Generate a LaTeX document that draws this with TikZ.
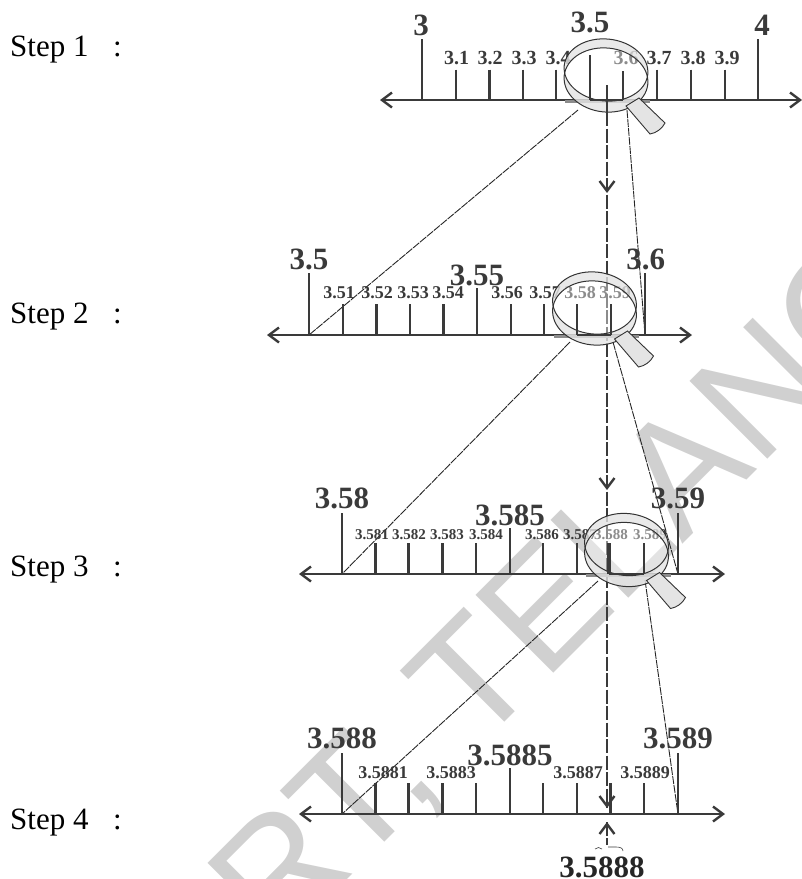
\documentclass[tikz,border=0pt]{standalone}
\usepackage{fontspec}
\setmainfont{Liberation Serif}
\newfontfamily\wmfont{Liberation Sans}
\usetikzlibrary{arrows.meta}
\definecolor{ink}{HTML}{3A3A3A}
\definecolor{wmgray}{HTML}{D0D0D0}
\definecolor{rimgray}{HTML}{E4E4E4}
\tikzset{
  x=1pt,y=-1pt,
  barb/.tip={Straight Barb[length=10pt,width=15pt,line width=2.4pt]},
  axisline/.style={ink,line width=2.5pt,barb-barb},
  ticklen/.style={ink,line width=2.1pt},
  biglab/.style={text=ink,font=\bfseries\fontsize{31}{31}\selectfont,inner sep=0pt,anchor=center},
  smlab/.style={text=ink,font=\bfseries\fontsize{#1}{#1}\selectfont,inner sep=0pt,anchor=center},
  steplab/.style={font=\fontsize{31}{31}\selectfont,inner sep=0pt,anchor=base west},
  centreline/.style={ink,line width=2.4pt,dash pattern=on 14pt off 2.5pt},
  guide/.style={black!85,line width=0.9pt,dash pattern=on 8pt off 1pt},
  headline/.style={ink,line width=2.3pt,-barb},
  lensline/.style={draw=black!80,line width=1pt},
  lenshandle/.style={draw=black!80,line width=0.9pt,fill=rimgray},
}
\newcommand{\tickmark}[3]{\draw[ticklen] (#1,#2) -- (#1,#3);}
% #1,#2 = lens centre, #3 = axis height
\newcommand{\lensat}[3]{%
  \draw[black!45,line width=3pt] (#1-41,#3+1) -- (#1+44,#3+1);
  \fill[rimgray,even odd rule,fill opacity=0.8]
     (#1,#2-5) circle [x radius=42,y radius=31,rotate=-6]
     (#1,#2+5) circle [x radius=42,y radius=32,rotate=-6];
  \begin{scope}
    \clip (#1,#2-5) circle [x radius=42,y radius=31,rotate=-6];
    \fill[white,fill opacity=0.42] (#1,#2+5) circle [x radius=42,y radius=32,rotate=-6];
  \end{scope}
  \path[lensline] (#1,#2-5) circle [x radius=42,y radius=31,rotate=-6];
  \path[lensline] (#1,#2+5) circle [x radius=42,y radius=32,rotate=-6];
  \path[lenshandle] (#1+20,#2+31) -- (#1+33,#2+23) -- (#1+59,#2+48)
     .. controls (#1+56,#2+54) and (#1+50,#2+58) .. (#1+44,#2+59) -- cycle;
}
\begin{document}
\begin{tikzpicture}
\useasboundingbox (0,0) rectangle (802,879);
\clip (0,0) rectangle (802,879);
% watermark
\node[rotate=45,anchor=base west,inner sep=0pt,text=wmgray,font=\wmfont\fontsize{160}{160}\selectfont] (wm) at (276,951) {RT, TELANGANA};
% step labels
\node[steplab] (s1) at (10,56) {Step 1};
\node[steplab] (c1) at (113,56) {:};
\node[steplab] (s2) at (10,323) {Step 2};
\node[steplab] (c2) at (113,323) {:};
\node[steplab] (s3) at (10,576) {Step 3};
\node[steplab] (c3) at (113,576) {:};
\node[steplab] (s4) at (10,829) {Step 4};
\node[steplab] (c4) at (113,829) {:};
% named anchors
\coordinate (c1top) at (607,112);
\coordinate (hA) at (607,193);
\coordinate (hB) at (607,490);
\coordinate (hC) at (607,808);
\coordinate (hCfrom) at (607,794);
\coordinate (hBfrom) at (607,476);
\coordinate (hAfrom) at (607,179);
\coordinate (a1L) at (309,335);
\coordinate (a1R) at (645,335);
\coordinate (a2L) at (342,574);
\coordinate (a2R) at (678,574);
\coordinate (a3L) at (342,814);
\coordinate (a3R) at (678,814);
\coordinate (l1L) at (578,110);
\coordinate (l1R) at (627,110);
\coordinate (l2L) at (570,342);
\coordinate (l2R) at (613,342);
\coordinate (l3L) at (598,581);
\coordinate (l3R) at (645,580);
% guides and centre line
\draw[guide] (l1L) -- (a1L);
\draw[guide] (l1R) -- (a1R);
\draw[guide] (l2L) -- (a2L);
\draw[guide] (l2R) -- (a2R);
\draw[guide] (l3L) -- (a3L);
\draw[guide] (l3R) -- (a3R);
\draw[centreline] (c1top) -- (hC);
\draw[headline] (hAfrom) -- (hA);
\draw[headline] (hBfrom) -- (hB);
\draw[headline] (hCfrom) -- (hC);
% STEP 1
\coordinate (ax1a) at (380,100); \coordinate (ax1b) at (802,100);
\draw[axisline] (ax1a) -- (ax1b);
\foreach \x in {421.7,758}{\tickmark{\x}{39}{100}}
\foreach \x in {456,489.5,523,556,657,691,725}{\tickmark{\x}{69.5}{100}}
\node[biglab] (t3) at (421,25) {3};
\node[biglab] (t35) at (590,22) {3.5};
\node[biglab] (t4) at (762,25) {4};
\foreach \x/\t/\n in {456.5/3.1/a,490/3.2/b,524/3.3/c,558/3.4/d,626/3.6/e,659/3.7/f,693/3.8/g,727/3.9/h}
  {\node[smlab=20] (u\n) at (\x,58) {\t};}
\lensat{606}{75}{100}
\draw[ticklen] (590,55) -- (590,100);
\draw[ticklen] (623,71) -- (623,100);
\draw[ticklen] (606.7,85) -- (606.7,112);
\draw[ink,line width=2.5pt] (590,100) -- (623,100);
% STEP 2
\coordinate (ax2a) at (267,335); \coordinate (ax2b) at (692,335);
\draw[axisline] (ax2a) -- (ax2b);
\foreach \x in {309,645}{\tickmark{\x}{273}{335}}
\tickmark{477}{288}{335}
\foreach \x in {343,376.5,410,443.5,511,544}{\tickmark{\x}{304}{335}}
\node[biglab] (v1) at (309,259) {3.5};
\node[biglab] (v2) at (645.7,259) {3.6};
\node[biglab] (v3) at (477,275) {3.55};
\foreach \x/\t/\n in {339/3.51/a,377/3.52/b,413/3.53/c,448/3.54/d,507/3.56/e,545/3.57/f,580/3.58/g,615/3.59/h}
  {\node[smlab=18] (w\n) at (\x,293) {\t};}
\lensat{594.5}{308}{335}
\draw[ticklen] (577,304) -- (577,335);
\draw[ticklen] (611,304) -- (611,335);
\draw[ink,line width=2.5pt] (577,335) -- (611,335);
% STEP 3
\coordinate (ax3a) at (299,574); \coordinate (ax3b) at (725,574);
\draw[axisline] (ax3a) -- (ax3b);
\foreach \x in {341.7,678}{\tickmark{\x}{513}{574}}
\tickmark{510}{528}{574}
\foreach \x in {375.5,408.5,442.5,475.7,543,577}{\tickmark{\x}{543}{574}}
\node[biglab] (p1) at (342,498) {3.58};
\node[biglab] (p2) at (678,498) {3.59};
\node[biglab] (p3) at (510,515) {3.585};
\foreach \x/\t/\n in {372/3.581/a,409/3.582/b,447/3.583/c,486/3.584/d,542/3.586/e,580/3.587/f,611/3.588/g,650/3.589/h}
  {\node[smlab=15] (q\n) at (\x,535) {\t};}
\lensat{626.5}{549.5}{574}
\draw[ink,line width=3.5pt] (609,543) -- (609,574);
\draw[ticklen] (644,543) -- (644,574);
\draw[ink,line width=2.5pt] (609,574) -- (644,574);
% STEP 4
\coordinate (ax4a) at (299,814); \coordinate (ax4b) at (725,814);
\draw[axisline] (ax4a) -- (ax4b);
\foreach \x in {341.7,678}{\tickmark{\x}{753}{814}}
\tickmark{510}{768}{814}
\foreach \x in {375.5,408.5,442.5,475.7,543,577,610.5,644}{\tickmark{\x}{783}{814}}
\node[biglab] (r1) at (342,738) {3.588};
\node[biglab] (r2) at (678,738) {3.589};
\node[biglab] (r3) at (510,755) {3.5885};
\foreach \x/\t/\n in {383/3.5881/a,451/3.5883/b,578/3.5887/c,645/3.5889/d}
  {\node[smlab=18] (z\n) at (\x,773) {\t};}
% result
\node[biglab,text=black!85] (res) at (602,867) {3.5888};
\coordinate (upfrom) at (607,845);
\coordinate (uptip) at (607,822);
\draw[ink,line width=2.3pt,dash pattern=on 7pt off 2pt] (upfrom) -- (uptip);
\draw[ink,line width=2.3pt,-barb] (607,834) -- (uptip);
\draw[ink,line width=0.6pt] (595,849) .. controls (597,847) and (600,847) .. (602,849);
\draw[ink,line width=0.6pt] (608,847) -- (616,847) (616,847) .. controls (620,847) and (623,848) .. (623,851);
\end{tikzpicture}
\end{document}
